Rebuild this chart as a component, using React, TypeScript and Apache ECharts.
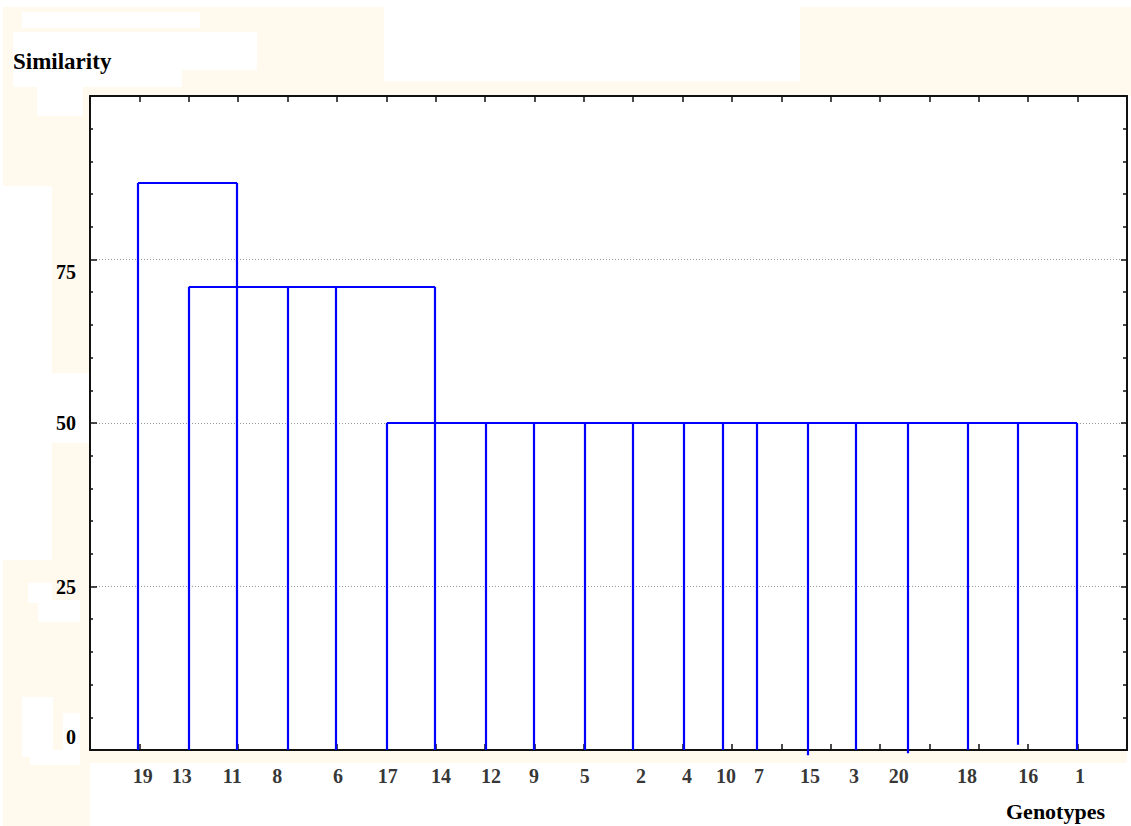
import React, { useEffect, useRef } from "react";
import * as echarts from "echarts";

// ---- data ----
const leafNames = ["19", "13", "11", "8", "6", "17", "14", "12", "9", "5", "2", "4", "10", "7", "15", "3", "20", "18", "16", "1"];
// x position of each leaf's vertical line (axis units, ticks at 1..20)
const leafX = [0.97, 2.0, 2.98, 4.01, 4.98, 6.01, 6.99, 8.02, 8.99, 10.02, 11.0, 12.02, 12.82, 13.51, 14.54, 15.51, 16.57, 17.78, 18.79, 19.99];
// height each leaf's vertical line reaches
const leafTop = [86.7, 70.8, 86.7, 70.8, 70.8, 50, 70.8, 50, 50, 50, 50, 50, 50, 50, 50, 50, 50, 50, 50, 50];
// where each vertical line starts
const leafBottom = [0, 0, 0, 0, 0, 0, 0, 0, 0, 0, 0, 0, 0, 0, -0.8, 0, -0.5, 0, 0.8, 0];
// x position of each leaf's label
const labelX = [1.07, 1.86, 2.88, 3.79, 5.02, 6.03, 7.11, 8.12, 8.99, 10.02, 11.16, 12.09, 12.88, 13.55, 14.58, 15.47, 16.38, 17.76, 19.0, 20.05];
// horizontal links
const linkFrom = ["19", "13", "17"];
const linkTo = ["11", "14", "1"];
const linkHeight = [86.7, 70.8, 50];

const yMin = 0;
const yMax = 100;
const yInterval = 25;
const xMin = 0;
const xMax = 21;

const FONT = "'Liberation Serif', 'Times New Roman', serif";
const CREAM = "#FFF9EE";

export default function App() {
  const ref = useRef<HTMLDivElement>(null);

  useEffect(() => {
    if (!ref.current) return;
    const chart = echarts.init(ref.current, undefined, { renderer: "svg" });

    const segs: any[] = [];
    leafNames.forEach((n, i) => {
      segs.push({ coords: [[leafX[i], leafBottom[i]], [leafX[i], leafTop[i]]] });
    });
    linkFrom.forEach((f, k) => {
      const a = leafX[leafNames.indexOf(f)];
      const b = leafX[leafNames.indexOf(linkTo[k])];
      segs.push({ coords: [[a, linkHeight[k]], [b, linkHeight[k]]] });
    });

    const labelData = leafNames.map((n, i) => ({ value: [labelX[i], 0], name: n }));

    const bg = (x: number, y: number, w: number, h: number, fill: string) => ({
      type: "rect",
      z: -10,
      silent: true,
      shape: { x, y, width: w, height: h },
      style: { fill },
    });

    const axisLineStyle = { color: "#111111", width: 2 };
    const tickStyle = { color: "#111111", width: 1.5 };

    const option: any = {
      animation: false,
      backgroundColor: "#ffffff",
      grid: { left: 90, top: 96, width: 1037, height: 654, containLabel: false },
      graphic: [
        // cream scan patches
        bg(3, 7, 1128, 89, CREAM),
        bg(384, 0, 416, 81, "#ffffff"),
        bg(22, 12, 178, 16, "#ffffff"),
        bg(13, 32, 244, 38, "#ffffff"),
        bg(13, 70, 169, 17, "#ffffff"),
        bg(3, 96, 87, 90, CREAM),
        bg(37, 87, 46, 29, "#ffffff"),
        bg(52, 186, 38, 187, CREAM),
        bg(52, 443, 38, 117, CREAM),
        bg(3, 560, 87, 266, CREAM),
        bg(28, 583, 24, 20, "#ffffff"),
        bg(38, 600, 42, 22, "#ffffff"),
        bg(22, 697, 31, 60, "#ffffff"),
        bg(63, 713, 17, 44, "#ffffff"),
        bg(30, 750, 50, 15, "#ffffff"),
        bg(90, 750, 1037, 13, CREAM),
        {
          type: "text",
          z: 10,
          left: 13,
          top: 50,
          style: { text: "Similarity", font: `bold 23px ${FONT}`, fill: "#000" },
        },
        {
          type: "text",
          z: 10,
          left: 1006,
          top: 800,
          style: { text: "Genotypes", font: `bold 22px ${FONT}`, fill: "#000" },
        },
      ],
      xAxis: [
        {
          type: "value",
          min: xMin,
          max: xMax,
          interval: 1,
          position: "bottom",
          axisLine: { show: true, onZero: false, lineStyle: axisLineStyle },
          axisTick: { show: true, inside: true, length: 6, lineStyle: tickStyle },
          axisLabel: { show: false },
          splitLine: { show: false },
        },
        {
          type: "value",
          min: xMin,
          max: xMax,
          interval: 1,
          position: "top",
          axisLine: { show: true, onZero: false, lineStyle: axisLineStyle },
          axisTick: { show: true, inside: true, length: 6, lineStyle: tickStyle },
          axisLabel: { show: false },
          splitLine: { show: false },
        },
      ],
      yAxis: [
        {
          type: "value",
          min: yMin,
          max: yMax,
          interval: yInterval,
          position: "left",
          axisLine: { show: true, onZero: false, lineStyle: axisLineStyle },
          axisTick: { show: true, inside: true, length: 7, lineStyle: tickStyle },
          minorTick: { show: true, splitNumber: 5, length: 3, lineStyle: tickStyle },
          axisLabel: {
            margin: 14,
            formatter: (v: number) =>
              v === yMax ? "" : v === 0 ? "{lo|0}" : v === 75 ? "{hi|75}" : `{n|${v}}`,
            rich: {
              n: { fontFamily: FONT, fontWeight: "bold", fontSize: 20, color: "#000" },
              lo: { fontFamily: FONT, fontWeight: "bold", fontSize: 20, color: "#000", padding: [0, 0, 26, 0] },
              hi: { fontFamily: FONT, fontWeight: "bold", fontSize: 20, color: "#000", padding: [24, 0, 0, 0] },
            },
          },
          splitLine: { show: true, lineStyle: { color: "#999999", width: 1, type: [1, 2] } },
        },
        {
          type: "value",
          min: yMin,
          max: yMax,
          interval: yInterval,
          position: "right",
          axisLine: { show: true, onZero: false, lineStyle: axisLineStyle },
          axisTick: { show: true, inside: true, length: 6, lineStyle: tickStyle },
          minorTick: { show: true, splitNumber: 5, length: 4, lineStyle: tickStyle },
          axisLabel: { show: false },
          splitLine: { show: false },
        },
      ],
      series: [
        {
          type: "lines",
          coordinateSystem: "cartesian2d",
          xAxisIndex: 0,
          yAxisIndex: 0,
          clip: false,
          polyline: false,
          silent: true,
          z: 5,
          lineStyle: { color: "#0000FF", width: 2.2, opacity: 1 },
          data: segs,
        },
        {
          type: "scatter",
          xAxisIndex: 0,
          yAxisIndex: 0,
          symbolSize: 0,
          silent: true,
          clip: false,
          data: labelData,
          label: {
            show: true,
            position: "bottom",
            distance: 16,
            formatter: (p: any) => p.name,
            fontFamily: FONT,
            fontWeight: "bold",
            fontSize: 20,
            color: "#000000",
          },
        },
      ],
    };

    chart.setOption(option);
    return () => chart.dispose();
  }, []);

  return (
    <div
      ref={ref}
      style={{ position: "absolute", left: 0, top: 0, width: 1131, height: 826, background: "#fff" }}
    />
  );
}
